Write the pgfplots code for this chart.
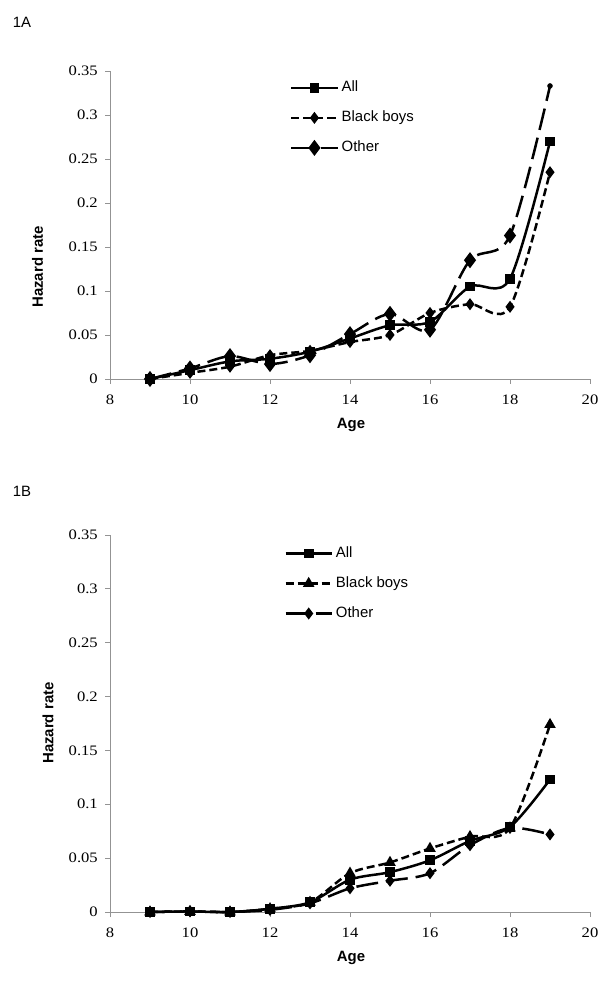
\documentclass[border=0pt]{standalone}
\usepackage{fontspec}
\setmainfont{Liberation Serif}
\newfontfamily\tickfont[FakeStretch=1.15]{Liberation Serif}
\newfontfamily\arial{Liberation Sans}
\usepackage{pgfplots}
\pgfplotsset{compat=1.18}
\pgfplotsset{
 hz/.style={
  scale only axis, width=480bp,
  xmin=8, xmax=20, ymin=0, ymax=0.35,
  axis lines*=left,
  axis line style={draw=gray!85, line width=0.8bp},
  xtick={8,10,12,14,16,18,20},
  ytick={0,0.05,0.1,0.15,0.2,0.25,0.3,0.35},
  yticklabels={0,0.05,0.1,0.15,0.2,0.25,0.3,0.35},
  tick align=outside, major tick length=5bp,
  tick style={draw=gray!85, line width=0.8bp},
  ticklabel style={font=\tickfont\fontsize{14.5}{14.5}\selectfont, inner sep=0pt},
  xticklabel shift=11bp,
  yticklabel shift=7bp,
  /pgf/number format/assume math mode=true,
  clip=false,
  legend style={draw=none, fill=none, font=\arial\fontsize{15}{15}\selectfont,
    row sep=16bp, anchor=north west, inner sep=0pt,
    nodes={inner xsep=3bp, inner ysep=0pt, text height=11bp, text depth=3bp},
    cells={anchor=west}},
  legend image code/.code={\draw[mark indices={2}] plot coordinates {(0bp,0bp)(23bp,0bp)(46bp,0bp)};},
 },
 sAll/.style={black, line width=2.5bp, smooth, tension=0.5, mark=square*, mark size=3.6bp, mark options={solid}},
 sBlack/.style={black, line width=2.5bp, smooth, tension=0.5, dash pattern=on 8bp off 4bp, mark options={solid}},
 sOther/.style={black, line width=2.5bp, smooth, tension=0.5, dash pattern=on 22bp off 8bp, mark options={solid}},
}
\begin{document}
\begin{tikzpicture}
\path (0,0) rectangle (614bp,981bp);
% ---------- Panel 1A ----------
\begin{axis}[hz, height=308bp, at={(110bp,602bp)}, anchor=south west,
  legend style={at={(0.375,0.9685)}}]
\addplot+[sAll] coordinates {(9,0)(10,0.01)(11,0.02)(12,0.023)(13,0.031)(14,0.046)(15,0.061)(16,0.065)(17,0.105)(18,0.114)(19,0.27)};
\addlegendentry{All}
\addplot+[sBlack, mark=diamond*, mark size=4bp] coordinates {(9,0)(10,0.007)(11,0.014)(12,0.027)(13,0.032)(14,0.042)(15,0.05)(16,0.075)(17,0.085)(18,0.082)(19,0.235)};
\addlegendentry{Black boys}
\addplot+[sOther, mark=diamond*, mark size=6bp, mark indices={1,2,3,4,5,6,7,8,9,10}] coordinates {(9,0)(10,0.012)(11,0.026)(12,0.017)(13,0.027)(14,0.051)(15,0.074)(16,0.056)(17,0.135)(18,0.163)(19,0.333)};
\addlegendentry{Other}
\addplot+[only marks, black, mark=*, mark size=2.5bp, forget plot] coordinates {(19,0.333)};
\end{axis}
% ---------- Panel 1B ----------
\begin{axis}[hz, height=377bp, at={(110bp,69bp)}, anchor=south west,
  legend style={at={(0.363,0.970)}}]
\addplot+[sAll] coordinates {(9,0)(10,0.0005)(11,0)(12,0.003)(13,0.009)(14,0.03)(15,0.037)(16,0.048)(17,0.066)(18,0.079)(19,0.123)};
\addlegendentry{All}
\addplot+[sBlack, mark=triangle*, mark size=4.2bp] coordinates {(9,0)(10,0.0005)(11,0)(12,0.003)(13,0.009)(14,0.036)(15,0.046)(16,0.059)(17,0.07)(18,0.078)(19,0.174)};
\addlegendentry{Black boys}
\addplot+[sOther, mark=diamond*, mark size=4bp] coordinates {(9,0)(10,0.0005)(11,0)(12,0.002)(13,0.008)(14,0.022)(15,0.029)(16,0.036)(17,0.062)(18,0.078)(19,0.072)};
\addlegendentry{Other}
\end{axis}
% ---------- labels ----------
\node[font=\arial\fontsize{15}{15}\selectfont] at (22bp,959bp) {1A};
\node[font=\arial\fontsize{15}{15}\selectfont] at (22bp,490bp) {1B};
\node[rotate=90, font=\arial\bfseries\fontsize{15}{15}\selectfont] at (37.5bp,714bp) {Hazard rate};
\node[rotate=90, font=\arial\bfseries\fontsize{15}{15}\selectfont] at (48bp,258bp) {Hazard rate};
\node[font=\arial\bfseries\fontsize{15}{15}\selectfont] at (351bp,556bp) {Age};
\node[font=\arial\bfseries\fontsize{15}{15}\selectfont] at (351bp,23bp) {Age};
\end{tikzpicture}
\end{document}
